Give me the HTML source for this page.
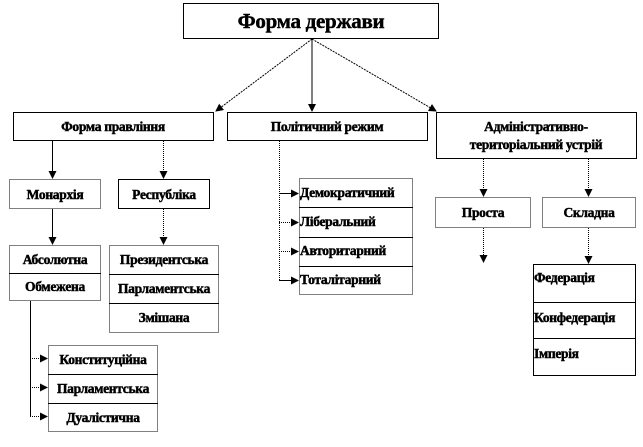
<!DOCTYPE html>
<html><head><meta charset="utf-8"><style>
html,body{margin:0;padding:0;background:#fff;width:643px;height:447px;overflow:hidden}
text{font-family:"Liberation Serif","Times New Roman",serif;font-weight:bold;fill:#000;stroke:#000;stroke-width:0.45px}
</style></head><body>
<svg width="643" height="447" viewBox="0 0 643 447" xmlns="http://www.w3.org/2000/svg" font-family="Liberation Serif, serif" font-weight="bold">
<defs>
<marker id="a" markerWidth="8" markerHeight="8" refX="7" refY="4" orient="auto" markerUnits="userSpaceOnUse"><path d="M0,0 L8,4 L0,8 z" fill="#000"/></marker>
</defs>
<g fill="#fff" stroke="#000" stroke-width="1">
<rect x="183.5" y="3.5" width="255" height="35"/>
<rect x="13.5" y="112.5" width="200" height="28"/>
<rect x="227.5" y="112.5" width="200" height="28"/>
<rect x="436.5" y="112.5" width="200" height="46"/>
<rect x="9.5" y="179.5" width="91" height="29" stroke-dasharray="1,1"/>
<rect x="118.5" y="179.5" width="91" height="29"/>
<rect x="9.5" y="245.5" width="91" height="55" stroke-dasharray="1,1"/>
<rect x="109.5" y="245.5" width="109" height="87" stroke-dasharray="1,1"/>
<rect x="48.5" y="345.5" width="109" height="86" stroke-dasharray="1,1"/>
<rect x="299.5" y="178.5" width="113" height="116" stroke-dasharray="1,1"/>
<rect x="435.5" y="197.5" width="95" height="30" stroke-dasharray="1,1"/>
<rect x="542.5" y="197.5" width="93" height="30" stroke-dasharray="1,1"/>
<rect x="533.5" y="264.5" width="102" height="111"/>
</g>
<g stroke="#000" stroke-width="1" fill="none">
<line x1="9" y1="273.5" x2="101" y2="273.5"/>
<line x1="109" y1="274.5" x2="219" y2="274.5"/>
<line x1="109" y1="303.5" x2="219" y2="303.5"/>
<line x1="48" y1="374.5" x2="158" y2="374.5"/>
<line x1="48" y1="403.5" x2="158" y2="403.5"/>
<line x1="299" y1="207.5" x2="413" y2="207.5"/>
<line x1="299" y1="237.5" x2="413" y2="237.5"/>
<line x1="299" y1="266.5" x2="413" y2="266.5"/>
<line x1="533" y1="302.5" x2="636" y2="302.5"/>
<line x1="533" y1="338.5" x2="636" y2="338.5"/>
<line x1="312" y1="39" x2="216" y2="111" stroke-dasharray="2,1" marker-end="url(#a)"/>
<line x1="312" y1="39" x2="312" y2="111" marker-end="url(#a)"/>
<line x1="312" y1="39" x2="436" y2="111" stroke-dasharray="2,1" marker-end="url(#a)"/>
<line x1="52.5" y1="141" x2="52.5" y2="178" marker-end="url(#a)"/>
<line x1="163.5" y1="141" x2="163.5" y2="178" stroke-dasharray="1,1" marker-end="url(#a)"/>
<line x1="52.5" y1="209" x2="52.5" y2="244" marker-end="url(#a)"/>
<line x1="163.5" y1="209" x2="163.5" y2="244" stroke-dasharray="1,1" marker-end="url(#a)"/>
<line x1="30.5" y1="301" x2="30.5" y2="416"/>
<line x1="30" y1="358.5" x2="47" y2="358.5" stroke-dasharray="1,1" marker-end="url(#a)"/>
<line x1="30" y1="387.5" x2="47" y2="387.5" stroke-dasharray="1,1" marker-end="url(#a)"/>
<line x1="30" y1="416.5" x2="47" y2="416.5" stroke-dasharray="1,1" marker-end="url(#a)"/>
<line x1="279.5" y1="141" x2="279.5" y2="280" stroke-dasharray="1,1"/>
<line x1="279" y1="193.5" x2="298" y2="193.5" marker-end="url(#a)"/>
<line x1="279" y1="222.5" x2="298" y2="222.5" stroke-dasharray="1,1" marker-end="url(#a)"/>
<line x1="279" y1="251.5" x2="298" y2="251.5" stroke-dasharray="1,1" marker-end="url(#a)"/>
<line x1="279" y1="280.5" x2="298" y2="280.5" marker-end="url(#a)"/>
<line x1="483.5" y1="159" x2="483.5" y2="196" stroke-dasharray="1,1" marker-end="url(#a)"/>
<line x1="588.5" y1="159" x2="588.5" y2="196" stroke-dasharray="1,1" marker-end="url(#a)"/>
<line x1="483.5" y1="228" x2="483.5" y2="262" stroke-dasharray="1,1" marker-end="url(#a)"/>
<line x1="588.5" y1="228" x2="588.5" y2="263" stroke-dasharray="1,1" marker-end="url(#a)"/>
</g>
<g font-size="13.5" text-anchor="middle" letter-spacing="-0.3">
<text x="311" y="28" font-size="21">Форма держави</text>
<text x="113" y="131">Форма правління</text>
<text x="327" y="131">Політичний режим</text>
<text x="536" y="131">Адміністративно-</text>
<text x="536" y="149">територіальний устрій</text>
<text x="55" y="199">Монархія</text>
<text x="164" y="199">Республіка</text>
<text x="55" y="264">Абсолютна</text>
<text x="55" y="291">Обмежена</text>
<text x="164" y="264">Президентська</text>
<text x="164" y="293">Парламентська</text>
<text x="164" y="322">Змішана</text>
<text x="103" y="364">Конституційна</text>
<text x="103" y="393">Парламентська</text>
<text x="103" y="422">Дуалістична</text>
<text x="483" y="217">Проста</text>
<text x="589" y="217">Складна</text>
</g>
<g font-size="13.5" letter-spacing="-0.3">
<text x="300" y="197">Демократичний</text>
<text x="300" y="226">Ліберальний</text>
<text x="300" y="255">Авторитарний</text>
<text x="300" y="284">Тоталітарний</text>
<text x="534" y="282">Федерація</text>
<text x="534" y="322">Конфедерація</text>
<text x="534" y="358">Імперія</text>
</g>
</svg>
</body></html>
